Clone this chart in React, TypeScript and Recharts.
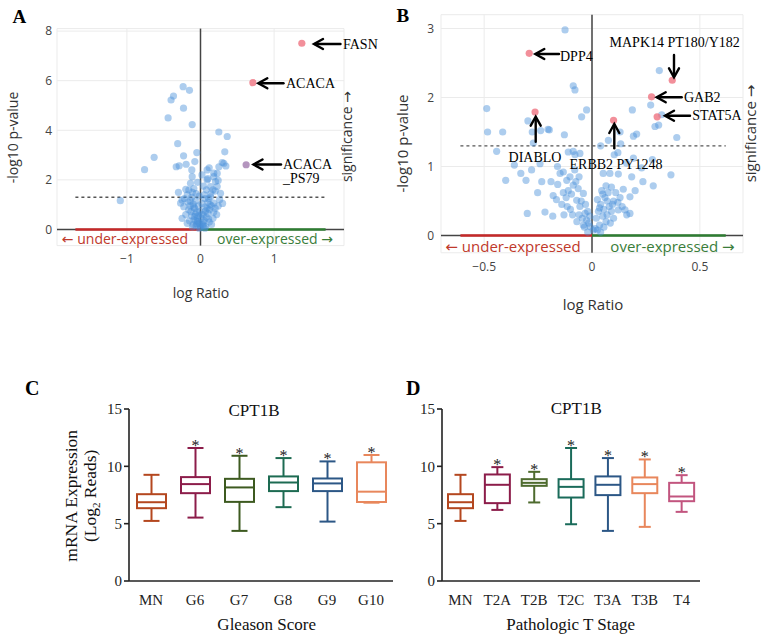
import React from 'react';
import { ScatterChart, Scatter, XAxis, YAxis, CartesianGrid, ReferenceLine, ComposedChart, Bar } from 'recharts';

const FONT_PLOT = '"Open Sans", "DejaVu Sans", sans-serif';
const FONT_SERIF = '"Liberation Serif", "Times New Roman", serif';

// panel A: proteins, [log ratio, -log10 p]
const A_BLUE: [number, number][] = [
  [-0.236, 5.76], [-0.15, 5.61], [-0.367, 5.38], [-0.4, 5.22], [-0.231, 4.89], [-0.44, 4.5], [-0.113, 4.23],
  [-0.31, 3.46], [0.249, 3.93], [0.363, 3.75], [-0.05, 3.1], [0.33, 3.13], [-0.63, 2.91], [-0.23, 2.97],
  [-0.76, 2.41], [-0.33, 2.53], [-0.29, 2.57], [-0.195, 2.63], [-0.077, 2.74], [0.295, 2.7], [0.345, 2.56],
  [0.118, 2.49], [0.227, 2.26], [-1.09, 1.16], [-0.118, 2.4], [-0.113, 2.13], [-0.136, 1.86], [-0.159, 1.59],
  [-0.25, 1.19], [-0.27, 1.06], [-0.227, 0.92], [0.09, 2.4], [0.18, 2.27], [0.25, 2.53], [0.317, 2.67],
  [0.204, 1.93], [0.136, 1.73], [0.227, 1.73], [0.272, 1.46], [0.136, 1.32], [0.18, 1.06], [0.09, 2.0],
  [0.18, 2.13], [0.24, 1.98], [-0.09, 1.65], [-0.06, 1.45], [-0.12, 1.3], [-0.18, 1.4], [-0.2, 1.62],
  [-0.14, 1.15], [-0.1, 1.02], [-0.08, 0.85], [-0.05, 0.7], [-0.16, 0.8], [-0.2, 0.6], [-0.12, 0.55],
  [-0.04, 0.45], [-0.09, 0.38], [-0.02, 0.25], [-0.06, 0.15], [0.0, 0.08], [0.03, 0.2], [0.05, 0.35],
  [0.08, 0.5], [0.1, 0.65], [0.12, 0.8], [0.06, 0.9], [0.15, 0.95], [0.2, 0.85], [0.1, 1.1], [0.06, 1.25],
  [0.14, 1.45], [0.08, 1.6], [0.04, 1.75], [0.2, 1.55], [0.26, 1.2], [0.3, 1.05], [0.22, 0.6], [0.17, 0.45],
  [0.12, 0.3], [0.07, 0.12], [-0.03, 0.55], [-0.07, 0.62], [-0.13, 0.72], [-0.1, 0.2], [-0.15, 0.35],
  [-0.25, 0.45], [-0.18, 0.25], [0.02, 1.05], [-0.02, 1.35], [-0.04, 1.9], [0.02, 2.2], [0.1, 2.05],
  [-0.3, 1.5], [-0.22, 1.25], [0.04, 0.6], [0.15, 0.2], [-0.01, 0.72], [0.11, 0.42], [0.18, 0.7],
  [-0.11, 0.1], [0.01, 0.45], [-0.03, 0.95], [-0.07, 1.15], [0.05, 1.4], [-0.02, 0.05], [0.03, 0.3],
  [-0.05, 0.22], [0.09, 0.85], [-0.09, 0.9], [-0.04, 0.32], [0.02, 0.62], [0.07, 0.75], [-0.08, 0.52],
  [-0.14, 0.95], [0.13, 1.0], [0.04, 0.15], [-0.01, 0.18], [0.06, 0.05], [-0.06, 0.35], [0.11, 1.25],
  [-0.11, 1.5], [0.17, 1.6], [-0.17, 1.1], [0.24, 0.95],
];
const A_HITS: [number, number][] = [[1.377, 7.51], [0.712, 5.92]];
const A_PHOSPHO: [number, number][] = [[0.62, 2.61]];

// panel B: RPPA
const B_BLUE: [number, number][] = [
  [-0.125, 2.98], [-0.087, 2.17], [-0.079, 2.11], [-0.488, 1.84], [-0.025, 1.82], [-0.048, 1.72],
  [-0.297, 1.66], [-0.484, 1.5], [-0.414, 1.5], [-0.277, 1.5], [-0.238, 1.52], [-0.204, 1.54], [-0.198, 1.53],
  [-0.128, 1.46], [-0.272, 1.34], [-0.442, 1.22], [-0.11, 1.21], [-0.087, 1.22], [-0.056, 1.19],
  [0.312, 2.39], [0.272, 1.89], [0.187, 1.82], [0.323, 1.75], [0.309, 1.6], [0.292, 1.58], [0.207, 1.47],
  [0.192, 1.44], [0.393, 1.42], [0.076, 1.38], [0.133, 1.33], [0.103, 1.17], [0.192, 1.12], [0.13, 1.5],
  [-0.241, 1.04], [-0.306, 0.8], [-0.233, 0.78], [-0.19, 0.78], [-0.218, 0.34], [-0.182, 0.28], [-0.148, 0.9],
  [-0.252, 0.62], [-0.159, 0.74], [-0.133, 0.62], [-0.117, 0.8], [-0.102, 0.85], [-0.087, 0.73],
  [-0.064, 0.68], [-0.079, 1.17], [-0.133, 0.92], [-0.071, 0.51], [-0.056, 0.42], [-0.032, 0.32],
  [-0.025, 0.22], [-0.009, 0.13], [0.006, 0.08], [-0.04, 0.61], [-0.12, 0.55], [-0.14, 0.45], [-0.1, 0.38],
  [-0.11, 0.65], [-0.08, 0.95], [-0.06, 0.85], [-0.05, 0.5], [-0.03, 0.45], [-0.02, 0.35], [-0.045, 0.25],
  [-0.015, 0.18], [-0.035, 0.12], [-0.02, 0.05], [-0.01, 0.28], [-0.165, 0.52], [-0.09, 0.3], [-0.07, 0.2],
  [-0.13, 0.3], [-0.16, 1.0], [-0.36, 1.02], [-0.33, 0.9], [-0.4, 0.8], [-0.28, 0.95], [-0.3, 0.32],
  [-0.18, 0.58], [0.366, 0.88], [0.236, 0.78], [0.284, 0.72], [0.176, 0.56], [0.153, 0.37], [0.161, 0.3],
  [0.052, 0.9], [0.083, 0.9], [0.122, 0.89], [0.184, 0.85], [0.145, 0.67], [0.122, 0.37], [0.176, 0.32],
  [0.05, 0.6], [0.06, 0.55], [0.07, 0.5], [0.04, 0.45], [0.08, 0.42], [0.09, 0.35], [0.03, 0.35],
  [0.02, 0.25], [0.05, 0.28], [0.065, 0.2], [0.1, 0.5], [0.11, 0.62], [0.09, 0.7], [0.12, 0.48],
  [0.035, 0.15], [0.015, 0.1], [0.055, 0.38], [0.075, 0.62], [0.13, 0.55], [0.1, 0.25], [0.04, 0.05],
  [0.025, 0.52], [0.085, 0.18], [0.14, 0.42], [0.2, 0.65], [0.23, 0.98], [0.28, 1.1], [0.16, 1.05],
  [0.12, 1.2], [0.04, 1.3], [0.045, 0.65], [0.065, 0.72], [0.035, 0.4], [0.07, 0.3], [0.025, 0.08],
  [-0.075, 0.78], [-0.095, 0.6], [-0.06, 0.3], [-0.04, 0.15], [-0.115, 0.42], [0.095, 0.45], [0.055, 0.12],
];
const B_HITS: [number, number][] = [
  [-0.291, 2.64], [-0.264, 1.79], [0.1, 1.67], [0.372, 2.25], [0.276, 2.01], [0.302, 1.72],
];

// panel C: CPT1B by Gleason score
const GLEASON = ['MN', 'G6', 'G7', 'G8', 'G9', 'G10'];
const GLEASON_MIN = [5.24, 5.53, 4.37, 6.44, 5.18, 6.83];
const GLEASON_Q1 = [6.35, 7.66, 6.9, 7.84, 7.84, 6.89];
const GLEASON_MED = [6.87, 8.45, 8.16, 8.59, 8.51, 7.79];
const GLEASON_Q3 = [7.57, 9.06, 8.91, 9.12, 8.94, 10.35];
const GLEASON_MAX = [9.26, 11.6, 10.92, 10.72, 10.43, 10.99];
const GLEASON_SIG = [false, true, true, true, true, true];
const GLEASON_COLORS = ['#b4471f', '#8c1d4a', '#3d5a20', '#1d6b52', '#2c5786', '#e8875c'];

// panel D: CPT1B by pathologic T stage
const STAGE = ['MN', 'T2A', 'T2B', 'T2C', 'T3A', 'T3B', 'T4'];
const STAGE_MIN = [5.24, 6.2, 6.85, 4.95, 4.37, 4.72, 6.03];
const STAGE_Q1 = [6.35, 6.79, 8.3, 7.28, 7.49, 7.66, 6.96];
const STAGE_MED = [6.87, 8.39, 8.56, 8.21, 8.39, 8.45, 7.37];
const STAGE_Q3 = [7.57, 9.29, 8.88, 8.88, 9.12, 9.03, 8.56];
const STAGE_MAX = [9.26, 9.93, 9.52, 11.6, 10.72, 10.6, 9.23];
const STAGE_SIG = [false, true, true, true, true, true, true];
const STAGE_COLORS = ['#b4471f', '#8c1d4a', '#4e6b2e', '#1a6b5a', '#2c5786', '#e8875c', '#c2557f'];

const toPts = (arr: [number, number][]) => arr.map(([x, y]) => ({ x, y }));

const toBoxes = (names: string[], mn: number[], q1: number[], med: number[], q3: number[], mx: number[], sig: boolean[]) =>
  names.map((name, i) => ({ name, min: mn[i], q1: q1[i], med: med[i], q3: q3[i], max: mx[i], sig: sig[i] }));

const minusFmt = (v: number) => (v < 0 ? '\u2212' + Math.abs(v) : String(v));
const plotTick = { fontSize: 12, fill: '#444', fontFamily: FONT_PLOT };
const serifTick = { fontSize: 15, fill: '#222', fontFamily: FONT_SERIF };

const dot = (color: string, opacity: number) => (p: any) =>
  <circle cx={p.cx} cy={p.cy} r={3.6} fill={color} fillOpacity={opacity} />;

const makeBox = (colors: string[], capW: number) => (p: any) => {
  const { x, y, width, height, payload, index } = p;
  if (!payload) return null;
  const top = Math.min(y, y + height);
  const h = Math.abs(height);
  const span = payload.max - payload.min;
  const py = (v: number) => top + (h * (payload.max - v)) / span;
  const cx = x + width / 2;
  const c = colors[index];
  return (
    <g stroke={c} strokeWidth={2} fill="none">
      <line x1={cx} x2={cx} y1={py(payload.max)} y2={py(payload.q3)} />
      <line x1={cx} x2={cx} y1={py(payload.q1)} y2={py(payload.min)} />
      <line x1={cx - capW / 2} x2={cx + capW / 2} y1={py(payload.max)} y2={py(payload.max)} />
      <line x1={cx - capW / 2} x2={cx + capW / 2} y1={py(payload.min)} y2={py(payload.min)} />
      <rect x={x} y={py(payload.q3)} width={width} height={py(payload.q1) - py(payload.q3)} fill="#fff" />
      <line x1={x} x2={x + width} y1={py(payload.med)} y2={py(payload.med)} />
      {payload.sig && (
        <text x={cx} y={py(payload.max) + 3} textAnchor="middle" stroke="none" fill="#222"
          fontFamily={FONT_SERIF} fontSize={16}>*</text>
      )}
    </g>
  );
};

const Arrow = ({ x1, y1, x2, y2 }: { x1: number; y1: number; x2: number; y2: number }) => {
  const dx = x2 - x1, dy = y2 - y1;
  const len = Math.hypot(dx, dy);
  const ux = dx / len, uy = dy / len;
  const hl = 9, hw = 5;
  const bx = x2 - ux * hl, by = y2 - uy * hl;
  return (
    <g stroke="#000" strokeWidth={2.4} fill="none" strokeLinecap="round" strokeLinejoin="miter">
      <line x1={x1} y1={y1} x2={x2 - ux * 1} y2={y2 - uy * 1} />
      <polyline points={`${bx - uy * hw},${by + ux * hw} ${x2},${y2} ${bx + uy * hw},${by - ux * hw}`} />
    </g>
  );
};

const VolcanoA = () => (
  <ScatterChart width={380} height={310} margin={{ top: 28.6, right: 36, bottom: 0, left: 0 }}>
    <CartesianGrid stroke="#ebebeb" />
    <XAxis type="number" dataKey="x" domain={[-1.95, 1.95]} ticks={[-1, 0, 1]} height={64.4}
      axisLine={false} tickLine={false} tickSize={0} tickMargin={9} tick={plotTick} tickFormatter={minusFmt} />
    <YAxis type="number" dataKey="y" domain={[-0.65, 8.1]} ticks={[0, 2, 4, 6, 8]} width={57}
      axisLine={false} tickLine={false} tickSize={0} tickMargin={5} tick={plotTick} />
    <ReferenceLine y={0} stroke="#444" strokeWidth={1.5} />
    <ReferenceLine x={0} stroke="#444" strokeWidth={1.5} />
    <ReferenceLine segment={[{ x: -1.7, y: 0 }, { x: 0, y: 0 }]} stroke="#c62828" strokeWidth={2.5} />
    <ReferenceLine segment={[{ x: 0, y: 0 }, { x: 1.7, y: 0 }]} stroke="#2e7d32" strokeWidth={2.5} />
    <ReferenceLine segment={[{ x: -1.7, y: 1.3 }, { x: 1.7, y: 1.3 }]} stroke="#555" strokeDasharray="3 3" strokeWidth={1.3} />
    <Scatter data={toPts(A_BLUE)} shape={dot('#4a90d9', 0.45)} isAnimationActive={false} />
    <Scatter data={toPts(A_HITS)} shape={dot('#ee6a78', 0.75)} isAnimationActive={false} />
    <Scatter data={toPts(A_PHOSPHO)} shape={dot('#9b72a8', 0.75)} isAnimationActive={false} />
  </ScatterChart>
);

const VolcanoB = () => (
  <ScatterChart width={384} height={320} margin={{ top: 14.7, right: 21, bottom: 0, left: 0 }}>
    <CartesianGrid stroke="#ebebeb" />
    <XAxis type="number" dataKey="x" domain={[-0.7, 0.7]} ticks={[-0.5, 0, 0.5]} height={67.25}
      axisLine={false} tickLine={false} tickSize={0} tickMargin={10} tick={plotTick} tickFormatter={minusFmt} />
    <YAxis type="number" dataKey="y" domain={[-0.25, 3.2]} ticks={[0, 1, 2, 3]} width={61}
      axisLine={false} tickLine={false} tickSize={0} tickMargin={7} tick={plotTick} />
    <ReferenceLine y={0} stroke="#444" strokeWidth={1.5} />
    <ReferenceLine x={0} stroke="#444" strokeWidth={1.5} />
    <ReferenceLine segment={[{ x: -0.61, y: 0 }, { x: 0, y: 0 }]} stroke="#c62828" strokeWidth={2.5} />
    <ReferenceLine segment={[{ x: 0, y: 0 }, { x: 0.62, y: 0 }]} stroke="#2e7d32" strokeWidth={2.5} />
    <ReferenceLine segment={[{ x: -0.61, y: 1.3 }, { x: 0.62, y: 1.3 }]} stroke="#555" strokeDasharray="3 3" strokeWidth={1.3} />
    <Scatter data={toPts(B_BLUE)} shape={dot('#4a90d9', 0.45)} isAnimationActive={false} />
    <Scatter data={toPts(B_HITS)} shape={dot('#ee6a78', 0.75)} isAnimationActive={false} />
  </ScatterChart>
);

const BoxPanel = ({ data, colors, width, yWidth, right, barSize, capW }: any) => (
  <ComposedChart width={width} height={261} data={data} margin={{ top: 29, right, bottom: 0, left: 0 }}>
    <XAxis dataKey="name" type="category" height={60} axisLine={{ stroke: '#222', strokeWidth: 1.6 }}
      tickLine={false} tickSize={0} tickMargin={13} tick={serifTick} interval={0} />
    <YAxis type="number" domain={[0, 15]} ticks={[0, 5, 10, 15]} width={yWidth}
      axisLine={{ stroke: '#222', strokeWidth: 1.6 }} tickLine={{ stroke: '#222', strokeWidth: 1.6 }}
      tickSize={5} tickMargin={2} tick={serifTick} />
    <Bar dataKey={(d: any) => [d.min, d.max]} barSize={barSize} shape={makeBox(colors, capW)} isAnimationActive={false} />
  </ComposedChart>
);

const Overlay = () => (
  <svg width={764} height={641} style={{ position: 'absolute', left: 0, top: 0, pointerEvents: 'none' }}>
    <g fontFamily={FONT_SERIF} fontWeight="bold" fill="#000">
      <text x={12.5} y={23.3} fontSize={19}>A</text>
      <text x={396.5} y={21.7} fontSize={19}>B</text>
      <text x={25} y={395} fontSize={20}>C</text>
      <text x={406} y={395} fontSize={20}>D</text>
    </g>
    {/* panel A text */}
    <g fontFamily={FONT_PLOT} fontSize={14} fill="#333">
      <text x={201} y={298} textAnchor="middle">log Ratio</text>
      <text x={17.5} y={137.5} textAnchor="middle" transform="rotate(-90 17.5 137.5)">-log10 p-value</text>
      <text x={352} y={136.5} textAnchor="middle" transform="rotate(-90 352 136.5)">significance {'\u2192'}</text>
      <text x={125} y={244} textAnchor="middle" fill="#c0392b">{'\u2190'} under-expressed</text>
      <text x={275} y={244} textAnchor="middle" fill="#3a7d3a">over-expressed {'\u2192'}</text>
    </g>
    <g fontFamily={FONT_PLOT} fontSize={15} fill="#333">
      <text x={593} y={310} textAnchor="middle">log Ratio</text>
      <text x={408} y={143.5} textAnchor="middle" transform="rotate(-90 408 143.5)">-log10 p-value</text>
      <text x={756} y={133.5} textAnchor="middle" transform="rotate(-90 756 133.5)">significance {'\u2192'}</text>
      <text x={513} y={251.7} textAnchor="middle" fill="#c0392b">{'\u2190'} under-expressed</text>
      <text x={672.5} y={251.7} textAnchor="middle" fill="#3a7d3a">over-expressed {'\u2192'}</text>
    </g>
    <g fontFamily={FONT_SERIF} fontSize={14} fill="#000">
      <text x={343} y={48.7}>FASN</text>
      <text x={286} y={87.7}>ACACA</text>
      <text x={283} y={168.7}>ACACA</text>
      <text x={283} y={182.6}>_PS79</text>
      <text x={560} y={61}>DPP4</text>
      <text x={535} y={161.7} textAnchor="middle">DIABLO</text>
      <text x={616} y={169.3} textAnchor="middle">ERBB2 PY1248</text>
      <text x={674.7} y={46.7} textAnchor="middle">MAPK14 PT180/Y182</text>
      <text x={684} y={101.7}>GAB2</text>
      <text x={692.3} y={120.3}>STAT5A</text>
    </g>
    <Arrow x1={340.5} y1={44} x2={314} y2={44} />
    <Arrow x1={283.5} y1={83.3} x2={258.3} y2={83.3} />
    <Arrow x1={281} y1={164.5} x2={253.5} y2={164.5} />
    <Arrow x1={559} y1={54} x2={535.3} y2={54} />
    <Arrow x1={535.7} y1={141.7} x2={535.7} y2={116.7} />
    <Arrow x1={614.3} y1={148.3} x2={614.3} y2={124} />
    <Arrow x1={674} y1={55} x2={674} y2={77.3} />
    <Arrow x1={681.7} y1={97.3} x2={656.7} y2={97.3} />
    <Arrow x1={690} y1={115.7} x2={665} y2={115.7} />
    {/* panels C, D text */}
    <g fontFamily={FONT_SERIF} fontSize={17} fill="#111">
      <text x={254} y={416} textAnchor="middle">CPT1B</text>
      <text x={576.3} y={414.3} textAnchor="middle">CPT1B</text>
      <text x={266.7} y={630} textAnchor="middle">Gleason Score</text>
      <text x={570.7} y={630} textAnchor="middle">Pathologic T Stage</text>
      <text x={77} y={495.8} textAnchor="middle" fontSize={17.5} transform="rotate(-90 77 495.8)">mRNA Expression</text>
      <text x={96} y={495.8} textAnchor="middle" fontSize={17.5} transform="rotate(-90 96 495.8)">
        (Log<tspan fontSize={11} dy={4}>2</tspan><tspan dy={-4}> Reads)</tspan>
      </text>
    </g>
  </svg>
);

export default function App() {
  const gleason = toBoxes(GLEASON, GLEASON_MIN, GLEASON_Q1, GLEASON_MED, GLEASON_Q3, GLEASON_MAX, GLEASON_SIG);
  const stage = toBoxes(STAGE, STAGE_MIN, STAGE_Q1, STAGE_MED, STAGE_Q3, STAGE_MAX, STAGE_SIG);
  return (
    <div style={{ position: 'absolute', left: 0, top: 0, width: 764, height: 641, background: '#fff', overflow: 'hidden' }}>
      <div style={{ position: 'absolute', left: 0, top: 0 }}><VolcanoA /></div>
      <div style={{ position: 'absolute', left: 380, top: 0 }}><VolcanoB /></div>
      <div style={{ position: 'absolute', left: 0, top: 380 }}>
        <BoxPanel data={gleason} colors={GLEASON_COLORS} width={400} yWidth={129} right={7} barSize={29} capW={16} />
      </div>
      <div style={{ position: 'absolute', left: 380, top: 380 }}>
        <BoxPanel data={stage} colors={STAGE_COLORS} width={330} yWidth={62} right={10} barSize={25} capW={12} />
      </div>
      <Overlay />
    </div>
  );
}
